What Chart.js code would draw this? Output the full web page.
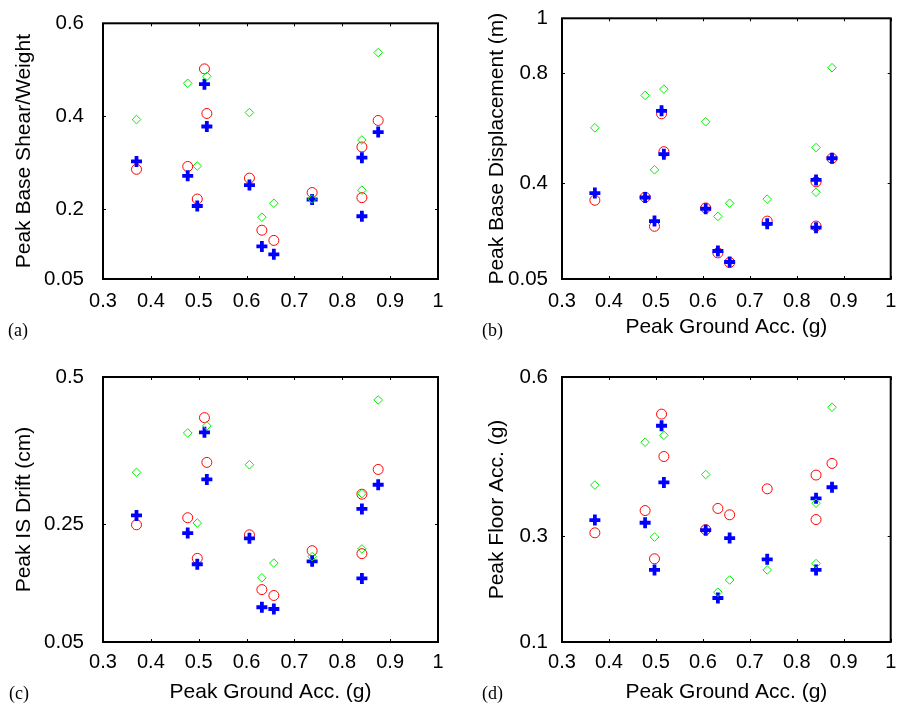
<!DOCTYPE html>
<html>
<head>
<meta charset="utf-8">
<script src="https://cdn.jsdelivr.net/npm/chart.js@4/dist/chart.umd.min.js"></script>
<style>
  body { margin: 0; background: #fff; }
  #wrap { position: relative; width: 900px; height: 706px; }
  .panel { position: absolute; }
  .tag { position: absolute; font: 18px "Liberation Serif", "Times New Roman", serif; color: #000; }
</style>
</head>
<body>
<div id="wrap">
  <div class="panel" style="left:0;top:0;width:450px;height:350px"><canvas id="pa"></canvas></div>
  <div class="panel" style="left:450px;top:0;width:450px;height:350px"><canvas id="pb"></canvas></div>
  <div class="panel" style="left:0;top:350px;width:450px;height:356px"><canvas id="pc"></canvas></div>
  <div class="panel" style="left:450px;top:350px;width:450px;height:356px"><canvas id="pd"></canvas></div>
  <div class="tag" style="left:8px;top:320px">(a)</div>
  <div class="tag" style="left:482px;top:320px">(b)</div>
  <div class="tag" style="left:9px;top:683px">(c)</div>
  <div class="tag" style="left:482px;top:683px">(d)</div>
</div>
<script>
// peak ground acceleration of each record (g)
let pga = [0.370, 0.477, 0.497, 0.512, 0.517, 0.606, 0.632, 0.657, 0.737, 0.841, 0.841, 0.875];
let pgaGreen = [0.370, 0.477, 0.497, 0.517, 0.606, 0.632, 0.657, 0.737, 0.841, 0.841, 0.875];
let xTicks = [0.3, 0.4, 0.5, 0.6, 0.7, 0.8, 0.9, 1];

// (a) base shear / weight
let shearBlue = [0.303, 0.272, 0.207, 0.469, 0.378, 0.252, 0.120, 0.103, 0.221, 0.311, 0.185, 0.366];
let shearRed = [0.286, 0.292, 0.222, 0.502, 0.406, 0.267, 0.155, 0.133, 0.236, 0.334, 0.225, 0.391];
let shearGreen = [0.393, 0.471, 0.293, 0.486, 0.408, 0.183, 0.213, 0.222, 0.349, 0.241, 0.537];
let shearTicks = [0.05, 0.2, 0.4, 0.6];

// (b) base displacement
let dispBlue = [0.363, 0.347, 0.261, 0.663, 0.505, 0.306, 0.152, 0.112, 0.251, 0.411, 0.237, 0.490];
let dispRed = [0.337, 0.348, 0.242, 0.652, 0.514, 0.309, 0.145, 0.110, 0.261, 0.404, 0.243, 0.490];
let dispGreen = [0.601, 0.719, 0.448, 0.742, 0.623, 0.278, 0.326, 0.341, 0.529, 0.366, 0.820];
let dispTicks = [0.05, 0.4, 0.8, 1];

// (c) interstory drift
let driftBlue = [0.265, 0.235, 0.182, 0.406, 0.326, 0.226, 0.109, 0.106, 0.187, 0.276, 0.158, 0.317];
let driftRed = [0.249, 0.261, 0.192, 0.431, 0.355, 0.232, 0.139, 0.129, 0.205, 0.301, 0.200, 0.343];
let driftGreen = [0.338, 0.405, 0.252, 0.417, 0.351, 0.159, 0.184, 0.195, 0.302, 0.208, 0.461];
let driftTicks = [0.05, 0.25, 0.5];

// (d) floor acceleration
let floorBlue = [0.330, 0.325, 0.236, 0.508, 0.401, 0.311, 0.183, 0.296, 0.256, 0.371, 0.236, 0.392];
let floorRed = [0.306, 0.348, 0.257, 0.530, 0.450, 0.312, 0.352, 0.340, 0.389, 0.415, 0.331, 0.437];
let floorGreen = [0.396, 0.477, 0.298, 0.490, 0.416, 0.194, 0.217, 0.236, 0.362, 0.248, 0.543];
let floorTicks = [0.1, 0.3, 0.6];

const sans = "'Liberation Sans', Arial, Helvetica, sans-serif";

function pts(xs, ys) {
  return ys.map((y, i) => ({ x: xs[i], y: y }));
}

// box around the plot area plus the little inward tick marks
const frame = {
  id: "frame",
  beforeDatasetsDraw(chart) {
    const a = chart.chartArea;
    const c = chart.ctx;
    c.save();
    c.strokeStyle = "#000";
    c.lineWidth = 1;
    for (const t of chart.scales.x.ticks) {
      const px = Math.round(chart.scales.x.getPixelForValue(t.value)) + 0.5;
      c.beginPath();
      c.moveTo(px, a.bottom); c.lineTo(px, a.bottom - 3);
      c.moveTo(px, a.top); c.lineTo(px, a.top + 3);
      c.stroke();
    }
    for (const t of chart.scales.y.ticks) {
      const py = Math.round(chart.scales.y.getPixelForValue(t.value)) + 0.5;
      c.beginPath();
      c.moveTo(a.left, py); c.lineTo(a.left + 3, py);
      c.moveTo(a.right, py); c.lineTo(a.right - 3, py);
      c.stroke();
    }
    c.lineWidth = 2;
    c.strokeRect(a.left, a.top, a.right - a.left, a.bottom - a.top);
    c.restore();
  },
};

function panel(id, o) {
  return new Chart(document.getElementById(id).getContext("2d"), {
    type: "scatter",
    data: {
      datasets: [
        {
          label: "green",
          data: pts(pgaGreen, o.green),
          pointStyle: "rectRot",
          pointRadius: 4.3,
          borderColor: "#00f000",
          backgroundColor: "rgba(0,0,0,0)",
          borderWidth: 1,
        },
        {
          label: "blue",
          data: pts(pga, o.blue),
          pointStyle: "cross",
          pointRadius: 5.5,
          borderColor: "#0000ff",
          borderWidth: 3.8,
        },
        {
          label: "red",
          data: pts(pga, o.red),
          pointStyle: "circle",
          pointRadius: 5,
          borderColor: "#ff0000",
          backgroundColor: "rgba(0,0,0,0)",
          borderWidth: 1,
        },
      ],
    },
    options: {
      responsive: true,
      maintainAspectRatio: false,
      animation: false,
      events: [],
      layout: { padding: { top: o.top, right: o.right, left: 0, bottom: 0 } },
      plugins: { legend: { display: false }, tooltip: { enabled: false } },
      scales: {
        x: {
          type: "linear",
          min: 0.3,
          max: 1,
          afterBuildTicks: (ax) => { ax.ticks = xTicks.map((v) => ({ value: v })); },
          afterFit: (ax) => { ax.height = o.xh; },
          grid: { display: false },
          border: { display: false },
          ticks: {
            color: "#000",
            padding: o.xTickPad,
            font: { family: sans, size: 20 },
            callback: (v) => String(+v.toFixed(2)),
          },
          title: {
            display: !!o.xTitle,
            text: o.xTitle || "",
            color: "#000",
            font: { family: sans, size: 21 },
            padding: { top: 0, bottom: o.xPad },
          },
        },
        y: {
          type: "linear",
          min: o.yTicks[0],
          max: o.yTicks[o.yTicks.length - 1],
          afterBuildTicks: (ax) => { ax.ticks = o.yTicks.map((v) => ({ value: v })); },
          afterFit: (ax) => { ax.width = o.yw; },
          grid: { display: false },
          border: { display: false },
          ticks: {
            color: "#000",
            padding: o.yTickPad,
            font: { family: sans, size: 20.5 },
            callback: (v) => String(+v.toFixed(2)),
          },
          title: {
            display: true,
            text: o.yTitle,
            color: "#000",
            font: { family: sans, size: 21 },
            padding: { top: o.yPad, bottom: 0 },
          },
        },
      },
    },
    plugins: [frame],
  });
}

panel("pa", {
  blue: shearBlue, red: shearRed, green: shearGreen, yTicks: shearTicks,
  yTitle: "Peak Base Shear/Weight", xTitle: null,
  top: 16, right: 12, xh: 71, yw: 103, yTickPad: 11, yPad: 12, xPad: 11, xTickPad: 2,
});
panel("pb", {
  blue: dispBlue, red: dispRed, green: dispGreen, yTicks: dispTicks,
  yTitle: "Peak Base Displacement (m)", xTitle: "Peak Ground Acc. (g)",
  top: 16, right: 3, xh: 71, yw: 112, yTickPad: 6, yPad: 35, xPad: 10, xTickPad: 2,
});
panel("pc", {
  blue: driftBlue, red: driftRed, green: driftGreen, yTicks: driftTicks,
  yTitle: "Peak IS Drift (cm)", xTitle: "Peak Ground Acc. (g)",
  top: 27, right: 12, xh: 64, yw: 103, yTickPad: 11, yPad: 12, xPad: 1, xTickPad: 0,
});
panel("pd", {
  blue: floorBlue, red: floorRed, green: floorGreen, yTicks: floorTicks,
  yTitle: "Peak Floor Acc. (g)", xTitle: "Peak Ground Acc. (g)",
  top: 27, right: 3, xh: 64, yw: 112, yTickPad: 6, yPad: 35, xPad: 1, xTickPad: 0,
});
</script>
</body>
</html>
